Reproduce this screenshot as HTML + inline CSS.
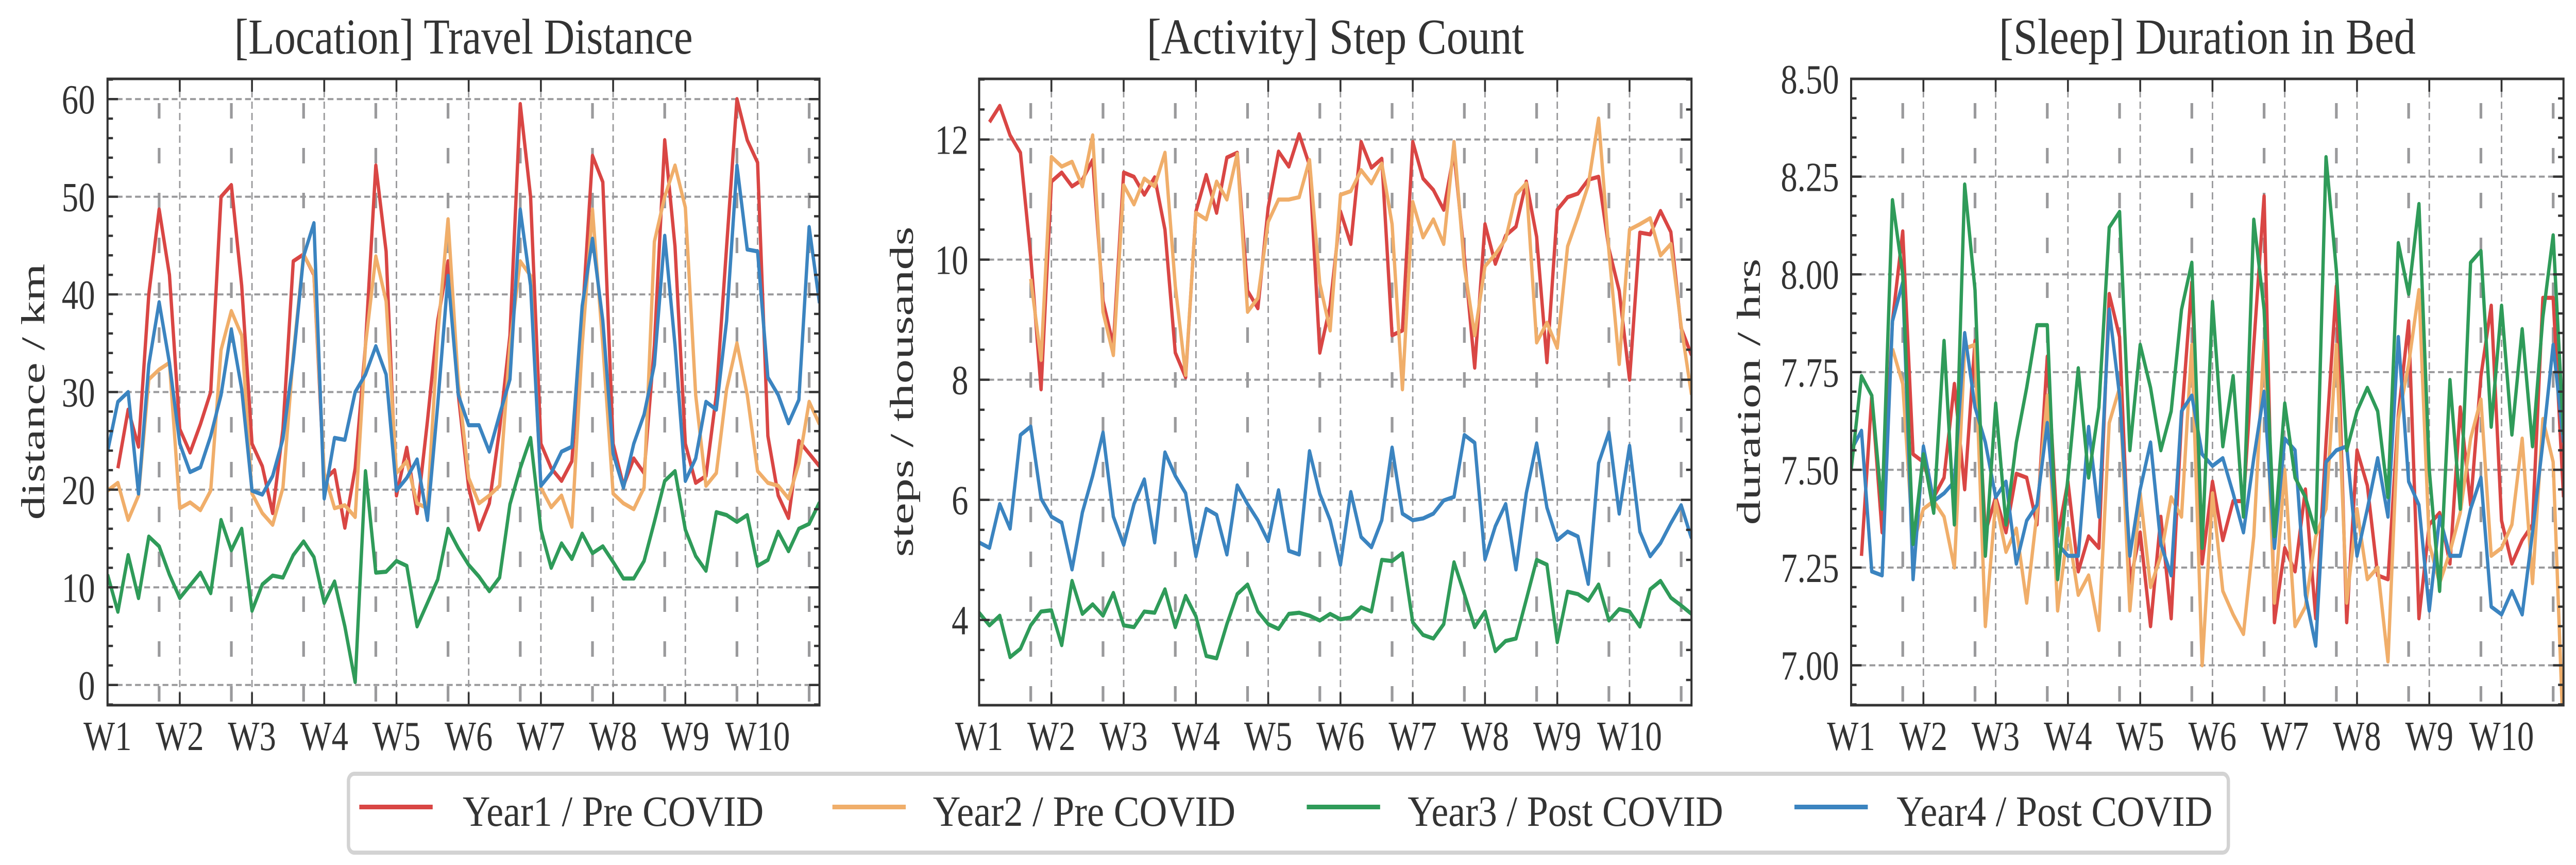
<!DOCTYPE html>
<html><head><meta charset="utf-8"><title>Travel, Steps, Sleep</title>
<style>
html,body{margin:0;padding:0;background:#fff;overflow:hidden;width:100%;height:100%;}
svg{display:block;width:100vw;height:100vh;}
text{font-family:"Liberation Serif","DejaVu Serif",serif;fill:#333;}
</style></head>
<body>
<svg id="fig" viewBox="0 0 6180 1678" preserveAspectRatio="none" xmlns="http://www.w3.org/2000/svg">
<rect x="0" y="0" width="6180" height="1678" fill="#fff"/>
<g id="legend">
<rect x="836" y="1501" width="4510" height="153" rx="14" fill="#fff" stroke="#d3d3d3" stroke-width="8"/>
<line x1="862" y1="1565.5" x2="1038" y2="1565.5" stroke="#d94644" stroke-width="9"/>
<text x="1110" y="1602" font-size="84" textLength="722" lengthAdjust="spacingAndGlyphs">Year1 / Pre COVID</text>
<line x1="1997" y1="1565.5" x2="2173" y2="1565.5" stroke="#f0ae6a" stroke-width="9"/>
<text x="2238" y="1602" font-size="84" textLength="726" lengthAdjust="spacingAndGlyphs">Year2 / Pre COVID</text>
<line x1="3135" y1="1565.5" x2="3311" y2="1565.5" stroke="#2f9b59" stroke-width="9"/>
<text x="3377" y="1602" font-size="84" textLength="757" lengthAdjust="spacingAndGlyphs">Year3 / Post COVID</text>
<line x1="4305" y1="1565.5" x2="4481" y2="1565.5" stroke="#3b84c0" stroke-width="9"/>
<text x="4550" y="1602" font-size="84" textLength="758" lengthAdjust="spacingAndGlyphs">Year4 / Post COVID</text>
</g>
</svg>
<script>
// ---------- shared data ----------
const weekLabels = ['W1','W2','W3','W4','W5','W6','W7','W8','W9','W10'];
const seriesNames = ['Year1 / Pre COVID','Year2 / Pre COVID','Year3 / Post COVID','Year4 / Post COVID'];
const seriesColors = ['#d94644','#f0ae6a','#2f9b59','#3b84c0'];
const seriesDrawOrder = [0,1,3,2];

// ---------- chart 1: travel distance (km) ----------
const distY1 = [null,22.2,28.2,24.4,40,48.7,42,26.2,23.8,26.7,30,50,51.2,40.9,24.7,22.4,17.6,26.2,43.4,44.1,42,21,22,16.1,22.2,34.8,53.2,44.4,19.4,24.3,17.6,27,37.3,43.4,29.7,20.2,15.9,18.6,26.2,35.8,59.5,50,24.7,22.2,20.9,22.9,37.3,54.2,51.5,24.7,20.4,23.2,21.7,34.8,55.8,44.9,24.7,20.7,21.4,29.7,44.9,60,55.8,53.5,25.5,19.4,17.1,25,23.7,22.4];
const distY2 = [19.9,20.7,16.9,19.4,31.3,32.3,33,18.1,18.7,17.9,19.9,34.3,38.3,35.8,19.6,17.6,16.4,20.2,33.8,44.1,42.1,21.7,18.1,18.4,17.2,34.8,43.9,39.3,21.7,22.9,18.6,18.1,35.8,47.7,30.8,21.2,18.6,19.4,20.4,34.8,43.4,41.9,20.2,18.2,19.4,16.2,34.8,48.7,34.8,19.6,18.6,18,20.2,45.4,50,53.2,48.9,29.7,20.4,21.7,30.3,35,29.7,21.9,20.7,20.4,19.1,22.7,29,26.7];
const distY3 = [11.3,7.5,13.3,8.9,15.2,14.2,11.3,8.9,10.2,11.5,9.4,16.9,13.8,16,7.6,10.3,11.2,11,13.3,14.7,13.1,8.4,10.6,6,0.3,21.9,11.5,11.6,12.7,12.2,6,8.4,10.8,16,14,12.3,11.1,9.6,11,18.5,22.2,25.3,15.9,12,14.5,12.9,15.5,13.5,14.2,12.6,10.9,10.9,12.7,16.7,20.9,21.9,15.9,13.2,11.7,17.7,17.4,16.7,17.4,12.2,12.8,15.7,13.7,16,16.5,18.7];
const distY4 = [23.9,29,30,19.6,32.8,39.2,33,24.7,21.8,22.3,25.5,29.7,36.4,30.3,19.9,19.5,21.4,25.2,33.3,43.9,47.3,19.1,25.3,25.1,30,31.8,34.7,31.8,19.9,21.2,23.1,16.9,28.7,41.9,29.7,26.6,26.6,23.9,27.7,31.3,48.7,40.9,20.4,21.7,23.9,24.4,38.8,45.7,37.3,23.7,20.2,24.7,27.7,32.8,46,34.8,20.9,23.2,29,28.2,37.3,53.2,44.6,44.4,31.5,29.7,26.8,29.2,46.9,39.1];
const distTicks = [0,10,20,30,40,50,60];
const distTickLabels = ['0','10','20','30','40','50','60'];

// ---------- chart 2: step count (thousands) ----------
const stepY1 = [null,12.29,12.56,12.07,11.78,10.05,7.84,11.3,11.45,11.22,11.33,11.66,9.31,8.57,11.45,11.38,11.08,11.37,10.5,8.45,8.04,10.8,11.41,10.78,11.7,11.78,9.48,9.19,10.87,11.8,11.55,12.09,11.57,8.45,9.23,10.8,10.26,11.96,11.53,11.68,8.74,8.82,11.96,11.35,11.16,10.83,11.78,10.05,8.2,10.59,9.93,10.4,10.55,11.3,10.38,8.29,10.83,11.04,11.1,11.33,11.38,10.18,9.48,8.0,10.45,10.42,10.81,10.46,8.86,8.41];
const stepY2 = [null,null,null,null,null,9.68,8.33,11.71,11.55,11.63,11.22,12.07,9.13,8.41,11.24,10.92,11.35,11.22,11.78,9.56,8.08,10.78,10.67,11.3,11.0,11.76,9.13,9.36,10.63,11.0,11.0,11.04,11.66,9.6,8.82,11.08,11.14,11.49,11.27,11.6,10.59,7.84,10.96,10.37,10.67,10.26,11.96,9.89,8.74,9.89,10.09,10.34,11.08,11.27,8.62,8.95,8.53,10.22,10.71,11.24,12.35,10.14,8.26,10.5,10.59,10.69,10.07,10.26,8.9,7.75];
const stepY3 = [4.12,3.91,4.07,3.38,3.52,3.91,4.14,4.16,3.58,4.65,4.1,4.26,4.07,4.45,3.91,3.88,4.14,4.12,4.51,3.88,4.4,4.06,3.4,3.36,3.93,4.43,4.59,4.14,3.93,3.85,4.1,4.12,4.07,3.99,4.1,4.01,4.04,4.21,4.14,5.0,4.98,5.11,3.96,3.75,3.69,3.93,4.96,4.43,3.88,4.14,3.48,3.65,3.69,4.34,5.0,4.92,3.63,4.47,4.43,4.32,4.59,3.99,4.18,4.14,3.89,4.51,4.65,4.37,4.24,4.1];
const stepY4 = [5.29,5.2,5.93,5.52,7.08,7.22,6.02,5.72,5.62,4.84,5.79,6.4,7.12,5.72,5.25,5.93,6.34,5.29,6.79,6.4,6.11,5.06,5.85,5.75,5.09,6.24,5.93,5.66,5.31,6.16,5.15,5.09,6.81,6.1,5.66,4.92,6.13,5.38,5.21,5.66,6.87,5.77,5.66,5.69,5.77,5.99,6.05,7.08,6.95,5.01,5.56,5.93,4.84,6.11,6.94,5.87,5.33,5.47,5.39,4.6,6.61,7.12,5.77,6.9,5.47,5.06,5.28,5.61,5.91,5.36];
const stepTicks = [4,6,8,10,12];
const stepTickLabels = ['4','6','8','10','12'];

// ---------- chart 3: sleep duration (hrs) ----------
const sleepY1 = [null,7.28,7.69,7.34,7.88,8.11,7.54,7.52,7.43,7.48,7.72,7.45,7.83,7.34,7.43,7.34,7.49,7.48,7.36,7.79,7.33,7.47,7.24,7.33,7.3,7.95,7.84,7.21,7.34,7.1,7.38,7.12,7.63,7.98,7.26,7.47,7.32,7.42,7.42,7.82,8.2,7.11,7.3,7.24,7.45,7.12,7.57,7.97,7.11,7.55,7.46,7.23,7.22,7.64,7.88,7.12,7.36,7.39,7.26,7.66,7.41,7.74,7.92,7.37,7.26,7.32,7.36,7.94,7.94,7.43];
const sleepY2 = [null,null,null,null,7.81,7.72,7.31,7.4,7.42,7.38,7.25,7.81,7.82,7.1,7.42,7.29,7.35,7.16,7.39,7.69,7.14,7.35,7.18,7.23,7.09,7.62,7.71,7.14,7.44,7.2,7.28,7.43,7.38,7.82,7.0,7.44,7.19,7.13,7.08,7.33,7.83,7.16,7.5,7.1,7.15,7.33,7.4,7.82,7.16,7.4,7.22,7.25,7.01,7.63,7.77,7.96,7.31,7.21,7.29,7.39,7.58,7.68,7.28,7.3,7.36,7.58,7.21,7.63,7.52,6.8];
const sleepY3 = [7.5,7.74,7.69,7.4,8.19,8.0,7.31,7.54,7.39,7.83,7.36,8.23,7.96,7.28,7.67,7.36,7.57,7.71,7.87,7.87,7.22,7.48,7.76,7.48,7.66,8.12,8.16,7.55,7.82,7.71,7.55,7.65,7.91,8.03,7.3,7.93,7.56,7.74,7.38,8.14,7.91,7.33,7.67,7.48,7.43,7.34,8.3,8.01,7.55,7.65,7.71,7.65,7.43,8.08,7.95,8.18,7.5,7.19,7.73,7.4,8.03,8.06,7.61,7.92,7.59,7.86,7.56,7.89,8.1,7.59];
const sleepY4 = [7.55,7.6,7.24,7.23,7.88,7.98,7.22,7.56,7.42,7.44,7.47,7.85,7.66,7.57,7.43,7.47,7.26,7.37,7.41,7.62,7.31,7.28,7.28,7.61,7.38,7.91,7.69,7.28,7.45,7.57,7.31,7.23,7.65,7.69,7.54,7.51,7.53,7.44,7.34,7.53,7.7,7.3,7.58,7.55,7.18,7.05,7.52,7.55,7.56,7.28,7.4,7.53,7.38,7.84,7.47,7.41,7.14,7.38,7.28,7.28,7.4,7.48,7.15,7.13,7.19,7.13,7.34,7.57,7.82,7.57];
const sleepTicks = [7.0,7.25,7.5,7.75,8.0,8.25,8.5];
const sleepTickLabels = ['7.00','7.25','7.50','7.75','8.00','8.25','8.50'];

// ---------- layout ----------
const NS = 'http://www.w3.org/2000/svg';
const svg = document.getElementById('fig');
const legendNode = document.getElementById('legend');
const XMAX = 69;

const charts = [
  {key:'distance', title:'[Location] Travel Distance', ylabel:'distance / km', x0:258, x1:1966, ymin:-2.07, ymax:62.07,
   series:[distY1,distY2,distY3,distY4], ticks:distTicks, tickLabels:distTickLabels, minorStep:2, labelRight:228, ylabelX:80, ylabelLen:497, titleLen:1100},
  {key:'steps', title:'[Activity] Step Count', ylabel:'steps / thousands', x0:2349, x1:4058, ymin:2.58, ymax:13.01,
   series:[stepY1,stepY2,stepY3,stepY4], ticks:stepTicks, tickLabels:stepTickLabels, minorStep:0.5, labelRight:2323, ylabelX:2164, ylabelLen:641, titleLen:905},
  {key:'sleep', title:'[Sleep] Duration in Bed', ylabel:'duration / hrs', x0:4441, x1:6150, ymin:6.898, ymax:8.5,
   series:[sleepY1,sleepY2,sleepY3,sleepY4], ticks:sleepTicks, tickLabels:sleepTickLabels, minorStep:0.05, labelRight:4412, ylabelX:4196, ylabelLen:517, titleLen:1000}
];
const Y0 = 153, Y1 = 1368;

function mk(tag, attrs, parent){
  const el = document.createElementNS(NS, tag);
  for (const k in attrs) el.setAttribute(k, attrs[k]);
  parent.appendChild(el);
  return el;
}
function xScale(c, d){ return c.x0 + d / XMAX * (c.x1 - c.x0); }
function yScale(c, v){ return Y1 - (v - c.ymin) / (c.ymax - c.ymin) * (Y1 - Y0); }

charts.forEach(function(c, ci){
  const g = mk('g', {}, svg);
  
  
  svg.insertBefore(g, legendNode);

  const clip = mk('clipPath', {id:'clip' + ci}, g);
  mk('rect', {x:c.x0, y:Y0, width:c.x1 - c.x0, height:Y1 - Y0}, clip);

  const t = mk('text', {x:(c.x0 + c.x1) / 2, y:104, 'font-size':98, 'text-anchor':'middle', textLength:c.titleLen, lengthAdjust:'spacingAndGlyphs'}, g);
  t.textContent = c.title;
  
  

  const yl = mk('text', {x:0, y:0, 'font-size':80, 'text-anchor':'middle', transform:'translate(' + (c.ylabelX + 26) + ',760) rotate(-90)', textLength:c.ylabelLen, lengthAdjust:'spacingAndGlyphs'}, g);
  yl.textContent = c.ylabel;
  
  

  const grid = mk('g', {stroke:'#9a9a9c', 'stroke-width':4, fill:'none'}, g);
  
  
  c.ticks.forEach(function(v){
    const y = yScale(c, v);
    const ln = mk('line', {x1:c.x0, x2:c.x1, y1:y, y2:y, 'stroke-dasharray':'14,8'}, grid);
    
    
  });
  weekLabels.forEach(function(w, i){
    const x = xScale(c, i * 7);
    const ln = mk('line', {x1:x, x2:x, y1:Y0, y2:Y1, 'stroke-dasharray':'14,8', 'stroke-width':3.5}, grid);
    
    
  });
  for (let d = 5; d <= XMAX; d += 7){
    const x = xScale(c, d);
    const ln = mk('line', {x1:x, x2:x, y1:Y0 + 47, y2:Y1, 'stroke-dasharray':'30,57', 'stroke-width':6.5}, grid);
    
    
  }

  const lines = mk('g', {'clip-path':'url(#clip' + ci + ')', fill:'none', 'stroke-width':8, 'stroke-linejoin':'round'}, g);
  
  
  seriesDrawOrder.forEach(function(si){
    const vals = c.series[si];
    let dstr = '', pen = false;
    vals.forEach(function(v, d){
      if (v === null){ pen = false; return; }
      dstr += (pen ? 'L' : 'M') + xScale(c, d).toFixed(1) + ',' + yScale(c, v).toFixed(1);
      pen = true;
    });
    const p = mk('path', {d:dstr, stroke:seriesColors[si]}, lines);
    
    
  });

  const fr = mk('rect', {x:c.x0, y:Y0, width:c.x1 - c.x0, height:Y1 - Y0, fill:'none', stroke:'#333', 'stroke-width':5}, g);
  
  

  const tk = mk('g', {stroke:'#333', 'stroke-width':4.5}, g);
  
  
  const nMinor = Math.round((c.ymax - c.ymin) / c.minorStep) + 2;
  const startMinor = Math.ceil(c.ymin / c.minorStep);
  for (let k = startMinor; k < startMinor + nMinor; k++){
    const v = k * c.minorStep;
    if (v < c.ymin || v > c.ymax + 1e-9) continue;
    const y = yScale(c, v);
    const isMajor = c.ticks.some(function(m){ return Math.abs(m - v) < 1e-6; });
    const L = isMajor ? 25 : 13;
    mk('line', {x1:c.x0, x2:c.x0 + L, y1:y, y2:y}, tk);
    mk('line', {x1:c.x1, x2:c.x1 - L, y1:y, y2:y}, tk);
  }
  weekLabels.forEach(function(w, i){
    const x = xScale(c, i * 7);
    mk('line', {x1:x, x2:x, y1:Y1, y2:Y1 - 25}, tk);
    mk('line', {x1:x, x2:x, y1:Y0, y2:Y0 + 25}, tk);
  });

  c.ticks.forEach(function(v, i){
    const tl = mk('text', {x:c.labelRight, y:yScale(c, v) + 28, 'font-size':80, 'text-anchor':'end'}, g);
    tl.textContent = c.tickLabels[i];
    
    
  });
  weekLabels.forEach(function(w, i){
    const tl = mk('text', {x:xScale(c, i * 7), y:1455, 'font-size':80, 'text-anchor':'middle'}, g);
    tl.textContent = w;
    
    
  });
});
</script>
</body></html>
